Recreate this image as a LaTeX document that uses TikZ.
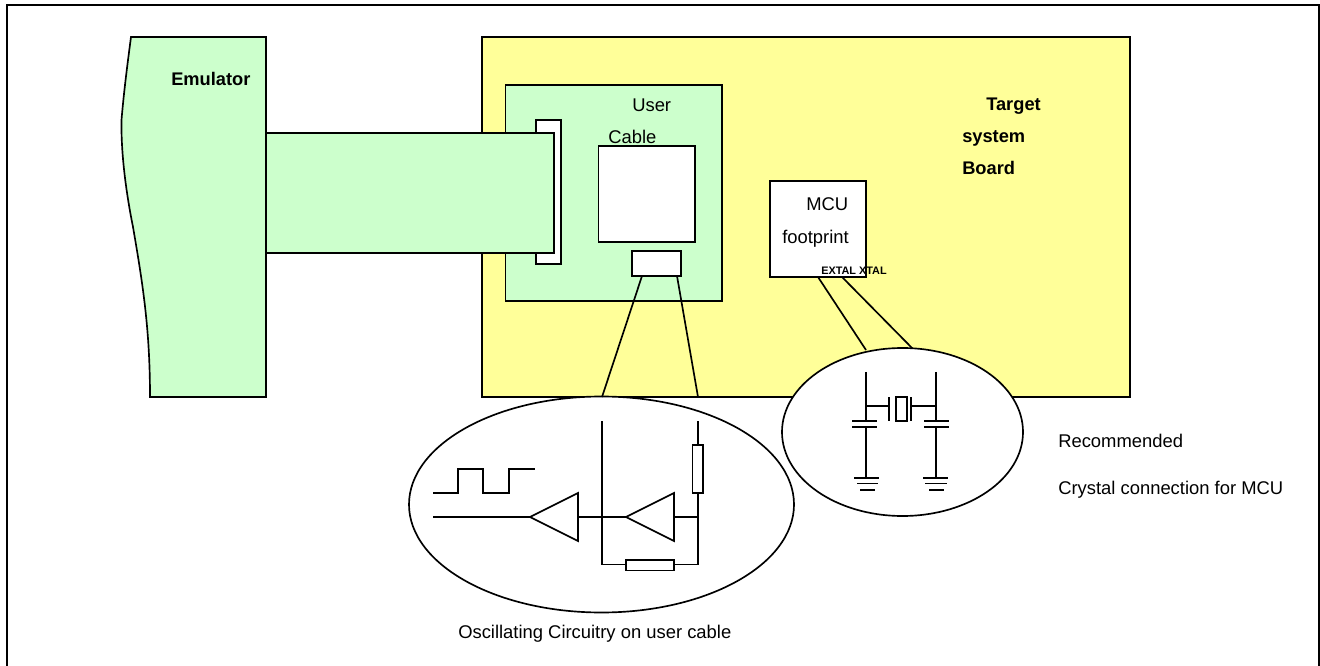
\documentclass[tikz,border=0pt]{standalone}
\usepackage{fontspec}
\usetikzlibrary{shapes.geometric}
\setmainfont{Liberation Sans}
\definecolor{lgreen}{HTML}{CCFFCC}
\definecolor{lyellow}{HTML}{FFFF99}
\tikzset{
  box/.style={draw=black,line width=1.25pt,line join=miter},
  wire/.style={draw=black,line width=1.25pt},
  frameline/.style={draw=black,line width=1.5pt,line join=miter},
  lbl/.style={inner sep=0pt,anchor=base west,font=\fontsize{13.8pt}{15pt}\selectfont},
  blbl/.style={lbl,font=\fontsize{13.7pt}{15pt}\selectfont\bfseries},
  tinylbl/.style={inner sep=0pt,anchor=base west,font=\fontsize{8.15pt}{9pt}\selectfont\bfseries},
}
\begin{document}
\begin{tikzpicture}[x=0.75pt,y=-0.75pt]
\useasboundingbox (0,0) rectangle (1320,666);
\fill[white] (0,0) rectangle (1320,666);
\coordinate (fa) at (7,666);
\coordinate (fb) at (7,5);
\coordinate (fc) at (1319,5);
\coordinate (fd) at (1319,666);
\draw[frameline] (fa) -- (fb) -- (fc) -- (fd);
% board
\path[box,fill=lyellow] (482,37) rectangle (1130,397);
% user cable pcb
\path[box,fill=lgreen] (505.5,85) rectangle (722,301);
\path[box,fill=white] (536,120) rectangle (561,264);
\path[box,fill=white] (598.5,146) rectangle (695,242);
\path[box,fill=white] (632,251) rectangle (681,276);
% emulator
\path[box,fill=lgreen] (266,133) rectangle (554,253);
\path[box,fill=lgreen] (131,37) -- (266,37) -- (266,397) -- (150,397)
  .. controls (150,330) and (143,285) .. (133,227)
  .. controls (125,187) and (121,150) .. (121.5,120)
  .. controls (124,90) and (128,60) .. (131,37) -- cycle;
% MCU
\node[box,fill=white,minimum width=72pt,minimum height=72pt,inner sep=0pt,anchor=north west] (mcu) at (769.2,180.2) {};
% ellipses
\node[box,fill=white,ellipse,minimum width=288.75pt,minimum height=162pt,inner sep=0pt] (osc) at (601.5,504.5) {};
\coordinate (mcuA) at (818,277);
\coordinate (mcuB) at (842,277);
\coordinate (cA) at (866,350);
\coordinate (cB) at (913,349);
\coordinate (pA) at (642,276);
\coordinate (pB) at (677,276);
\coordinate (oA) at (602,397);
\coordinate (oB) at (698,397);
\draw[wire] (pA) -- (oA);
\draw[wire] (pB) -- (oB);
\draw[wire] (mcuA) -- (cA);
\draw[wire] (mcuB) -- (cB);
\node[box,fill=white,ellipse,minimum width=180.75pt,minimum height=126pt,inner sep=0pt] (xtal) at (902.5,432) {};
% oscillating circuit
\draw[wire] (433,517) -- (530,517);
\draw[wire,line join=miter] (433,493) -- (458,493) -- (458,469) -- (483,469) -- (483,493) -- (509,493) -- (509,469) -- (535,469);
\draw[wire,line join=miter] (530,517) -- (578,493) -- (578,541) -- cycle;
\draw[wire,line join=miter] (626,517) -- (674,493) -- (674,541) -- cycle;
\draw[wire] (578,517) -- (626,517);
\draw[wire] (674,517) -- (698,517);
\draw[wire,line join=miter] (602,421) -- (602,564.5) -- (626,564.5);
\draw[wire,line join=miter] (698,421) -- (698,445);
\draw[wire,line join=miter] (698,493) -- (698,564.5) -- (674,564.5);
\draw[wire] (692.5,445) rectangle (703,493);
\draw[wire] (626,560) rectangle (674,570.5);
% crystal circuit
\draw[wire] (866,372) -- (866,421);
\draw[wire] (936,372) -- (936,421);
\draw[wire] (866,427) -- (866,478);
\draw[wire] (936,427) -- (936,478);
\draw[wire] (866,406) -- (889,406);
\draw[wire] (911,406) -- (936,406);
\draw[wire] (889,397) -- (889,421);
\draw[wire] (911,397) -- (911,421);
\draw[wire] (896,397) rectangle (907,421);
\draw[wire,line width=1.6pt] (852,421) -- (877,421);
\draw[wire] (852,427) -- (877,427);
\draw[wire,line width=1.6pt] (924,421) -- (949,421);
\draw[wire] (924,427) -- (949,427);
\draw[wire] (854,478) -- (879,478);
\draw[wire] (857,483.5) -- (878,483.5);
\draw[wire,line width=1.6pt] (860,490) -- (875,490);
\draw[wire] (923,478) -- (948,478);
\draw[wire] (925,483.5) -- (947,483.5);
\draw[wire,line width=1.6pt] (929,490) -- (944,490);
% text
\node[blbl] (t1) at (171,86) {Emulator};
\node[lbl] (t2) at (632,112) {User};
\node[lbl] (t3) at (608,144) {Cable};
\node[blbl] (t4) at (986,111) {Target};
\node[blbl] (t5) at (962,143) {system};
\node[blbl] (t6) at (962,175) {Board};
\node[lbl] (t7) at (806,211) {MCU};
\node[lbl] (t8) at (782,244) {footprint};
\node[tinylbl] (t9) at (821,274.5) {EXTAL XTAL};
\node[lbl] (t10) at (1058,447) {Recommended};
\node[lbl] (t11) at (1058,494) {Crystal connection for MCU};
\node[lbl] (t12) at (458,638) {Oscillating Circuitry on user cable};
\end{tikzpicture}
\end{document}
